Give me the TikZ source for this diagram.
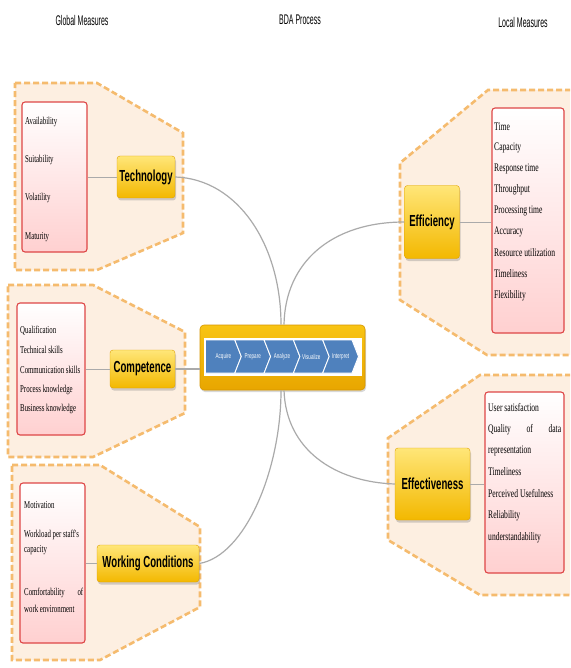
\documentclass[tikz,border=0pt]{standalone}
\usepackage{fontspec}
\setmainfont{Liberation Serif}
\newfontfamily\itemfontL[FakeStretch=0.65]{Liberation Serif}
\newfontfamily\itemfontR[FakeStretch=0.66]{Liberation Serif}
\newfontfamily\catfont[FakeStretch=0.6]{Liberation Sans}
\newfontfamily\titlefont[FakeStretch=0.5]{Liberation Sans}
\newfontfamily\chevfont[FakeStretch=0.65]{Liberation Sans}
\usetikzlibrary{shadows}
\definecolor{regfill}{RGB}{253,239,225}
\definecolor{regdash}{RGB}{245,187,110}
\definecolor{redline}{RGB}{222,70,70}
\definecolor{pinkfill}{RGB}{255,208,208}
\definecolor{yelltop}{RGB}{255,230,120}
\definecolor{yellbot}{RGB}{243,184,0}
\definecolor{yellline}{RGB}{222,160,0}
\definecolor{chevblue}{RGB}{79,129,189}
\definecolor{conngray}{RGB}{170,170,170}
\tikzset{
  region/.style={draw=regdash, fill=regfill, line width=2.6pt, dash pattern=on 6pt off 3pt},
  itembox/.style={draw=redline, line width=1.1pt, rounded corners=3pt, top color=white, bottom color=pinkfill, inner sep=0pt},
  catnode/.style={draw=yellline, line width=0.4pt, rounded corners=3pt, top color=yelltop, bottom color=yellbot, inner sep=0pt, font=\catfont\fontsize{16}{18}\selectfont\bfseries, drop shadow={opacity=0.35, shadow xshift=1pt, shadow yshift=-2.5pt}},
  itemL/.style={anchor=west, inner sep=0pt, font=\itemfontL\fontsize{10.5}{12}\selectfont},
  itemR/.style={anchor=west, inner sep=0pt, font=\itemfontR\fontsize{11.5}{13}\selectfont},
  conn/.style={draw=conngray, line width=1.2pt},
  shortconn/.style={draw=conngray, line width=0.9pt},
  chev/.style={fill=chevblue, draw=white, line width=0.9pt},
  chevtext/.style={text=white, inner sep=0pt, font=\chevfont\fontsize{7}{8}\selectfont},
  titletext/.style={inner sep=0pt, font=\titlefont\fontsize{14}{16}\selectfont}
}
\begin{document}
\begin{tikzpicture}[x=1pt,y=-1pt]
\clip (0,0) rectangle (570,668);
\fill[white] (0,0) rectangle (570,668);

% titles
\node[titletext] (tglobal) at (82,20) {Global Measures};
\node[titletext] (tbda) at (300,20) {BDA Process};
\node[titletext] (tlocal) at (523,22) {Local Measures};

% regions
\draw[region] (15,83) -- (97,83) -- (183,133) -- (183,233) -- (97,270) -- (15,270) -- cycle;
\draw[region] (8,285) -- (93,285) -- (185,332) -- (185,413) -- (93,457) -- (8,457) -- cycle;
\draw[region] (12,465) -- (100,465) -- (200,527) -- (200,607) -- (100,660) -- (12,660) -- cycle;
\draw[region] (580,90) -- (488,90) -- (400,163) -- (400,300) -- (487,355) -- (580,355) -- cycle;
\draw[region] (580,375) -- (480,375) -- (388,438) -- (388,540) -- (480,595) -- (580,595) -- cycle;

% item boxes
\node[itembox, minimum width=65pt, minimum height=150pt] (techbox) at (54.5,177) {};
\node[itembox, minimum width=68pt, minimum height=132pt] (compbox) at (51,369) {};
\node[itembox, minimum width=65pt, minimum height=160pt] (workbox) at (52.5,563) {};
\node[itembox, minimum width=72pt, minimum height=225pt] (effbox) at (528,220.5) {};
\node[itembox, minimum width=79pt, minimum height=181pt] (effectbox) at (524.5,482.5) {};

% items technology
\node[itemL] (t1) at (25,122) {Availability};
\node[itemL] (t2) at (25,160) {Suitability};
\node[itemL] (t3) at (25,198) {Volatility};
\node[itemL] (t4) at (25,237) {Maturity};
% items competence
\node[itemL] (c1) at (20,331) {Qualification};
\node[itemL] (c2) at (20,350) {Technical skills};
\node[itemL] (c3) at (20,370) {Communication skills};
\node[itemL] (c4) at (20,390) {Process knowledge};
\node[itemL] (c5) at (20,409) {Business knowledge};
% items working conditions
\node[itemL] (w1) at (24,505) {Motivation};
\node[itemL] (w2) at (24,535) {Workload per staff's};
\node[itemL] (w3) at (24,550) {capacity};
\node[itemL] (w4) at (24,593) {\makebox[59pt][s]{Comfortability\hfill of}};
\node[itemL] (w5) at (24,609) {work environment};
% items efficiency
\node[itemR] (e1) at (494,127) {Time};
\node[itemR] (e2) at (494,148) {Capacity};
\node[itemR] (e3) at (494,169) {Response time};
\node[itemR] (e4) at (494,190) {Throughput};
\node[itemR] (e5) at (494,211) {Processing time};
\node[itemR] (e6) at (494,232) {Accuracy};
\node[itemR] (e7) at (494,253) {Resource utilization};
\node[itemR] (e8) at (494,274) {Timeliness};
\node[itemR] (e9) at (494,296) {Flexibility};
% items effectiveness
\node[itemR] (f1) at (488,408) {User satisfaction};
\node[itemR] (f2) at (488,430) {\makebox[73pt][s]{Quality\hfill of\hfill data}};
\node[itemR] (f3) at (488,451) {representation};
\node[itemR] (f4) at (488,472) {Timeliness};
\node[itemR] (f5) at (488,494) {Perceived Usefulness};
\node[itemR] (f6) at (488,516) {Reliability};
\node[itemR] (f7) at (488,538) {understandability};

% category nodes
\node[catnode, minimum width=58pt, minimum height=42pt] (tech) at (146,177) {Technology};
\node[catnode, minimum width=65pt, minimum height=38pt] (comp) at (142.5,369) {Competence};
\node[catnode, minimum width=102pt, minimum height=37pt] (work) at (148,563.5) {Working Conditions};
\node[catnode, minimum width=55pt, minimum height=73pt] (eff) at (432,222) {Efficiency};
\node[catnode, minimum width=75pt, minimum height=72pt] (effect) at (432.5,484) {Effectiveness};

% BDA process node
\node[draw={rgb,255:red,214;green,150;blue,0}, line width=0.6pt, rounded corners=4pt, top color={rgb,255:red,248;green,196;blue,20}, bottom color={rgb,255:red,232;green,166;blue,0}, minimum width=165pt, minimum height=65pt, inner sep=0pt, drop shadow={opacity=0.3, shadow xshift=1pt, shadow yshift=-2pt}] (bda) at (282.5,357.5) {};
\fill[white] (203.5,337.5) rectangle (361.5,376);
\foreach \i/\lab/\nm in {0/Acquire/acq,1/Prepare/prep,2/Analyze/ana,3/Visualize/vis,4/Interpret/intp}{
  \pgfmathsetmacro{\L}{205.5+29.3*\i}
  \pgfmathsetmacro{\R}{\L+29.3}
  \ifnum\i=0
    \draw[chev] (\L,340) -- (\R,340) -- (\R+6.5,356.5) -- (\R,373) -- (\L,373) -- cycle;
  \else
    \draw[chev] (\L,340) -- (\R,340) -- (\R+6.5,356.5) -- (\R,373) -- (\L,373) -- (\L+6.5,356.5) -- cycle;
  \fi
  \node[chevtext] (\nm) at ({\L+14.65+3.25},356.5) {\lab};
}

% connectors
\draw[conn] (tech.east) .. controls (238,179) and (281,245) .. ([xshift=-1.5pt]bda.north);
\draw[conn] (eff.west) .. controls (332,222) and (285,262) .. ([xshift=1.5pt]bda.north);
\draw[conn] (comp.east) -- (comp.east -| bda.west);
\draw[conn] ([xshift=1.5pt]bda.south) .. controls (286,450) and (335,482) .. (effect.west);
\draw[conn] ([xshift=-1.5pt]bda.south) .. controls (281,470) and (245,556) .. (work.east);

\draw[shortconn] (tech.west) -- (tech.west -| techbox.east);
\draw[shortconn] (comp.west) -- (comp.west -| compbox.east);
\draw[shortconn] (work.west) -- (work.west -| workbox.east);
\draw[shortconn] (eff.east) -- (eff.east -| effbox.west);
\draw[shortconn] (effect.east) -- (effect.east -| effectbox.west);
\end{tikzpicture}
\end{document}
